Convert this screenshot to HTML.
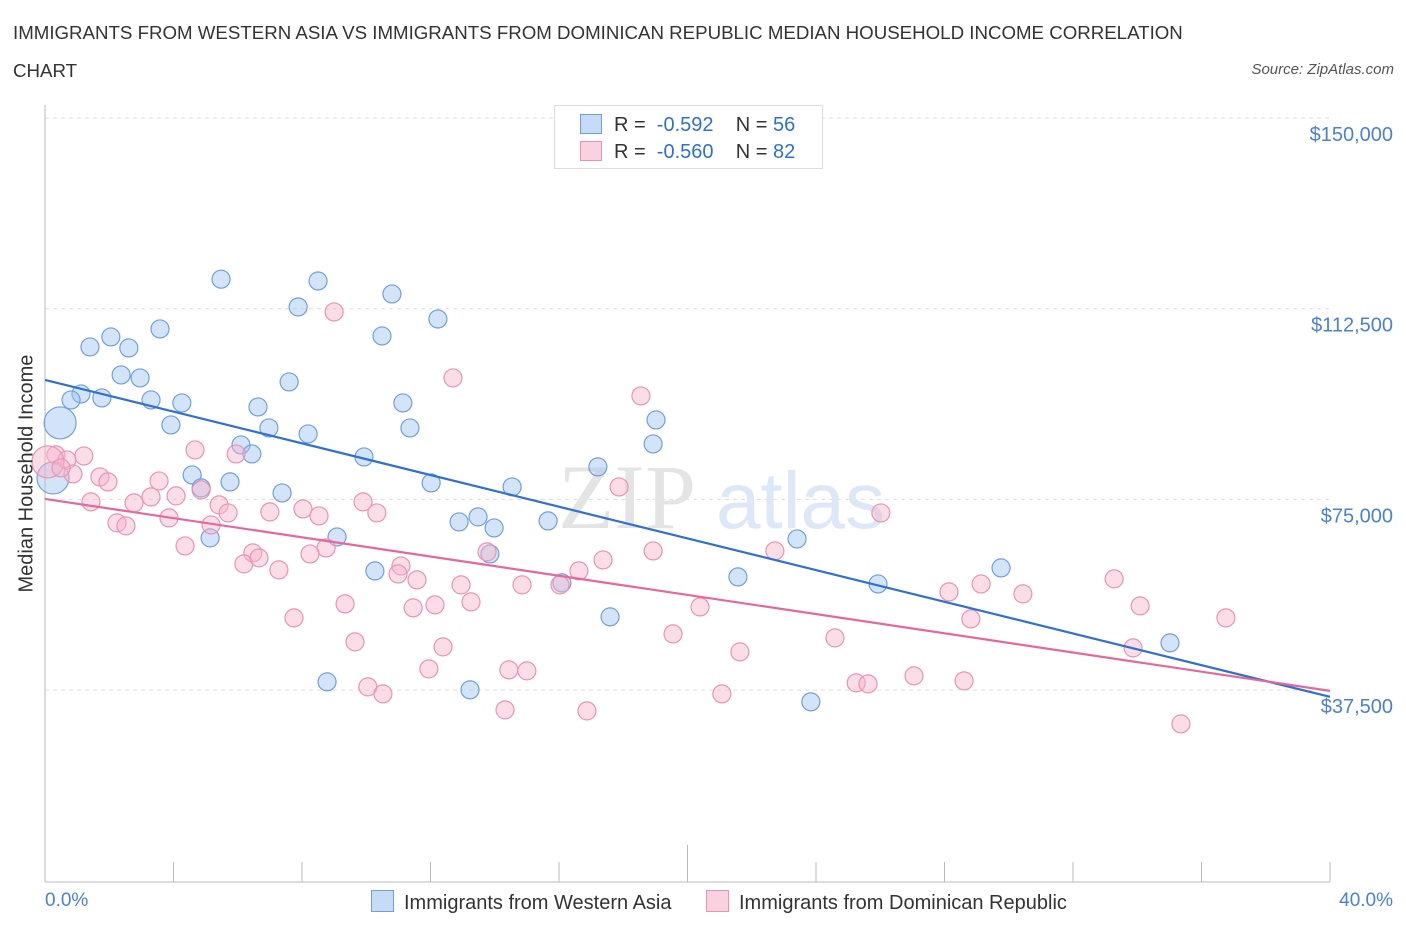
<!DOCTYPE html>
<html><head><meta charset="utf-8"><style>
body{margin:0;background:#fff;font-family:"Liberation Sans",sans-serif;}
#wrap{position:relative;width:1406px;height:930px;overflow:hidden;}
.t{position:absolute;white-space:nowrap;}
</style></head><body><div id="wrap">
<div class="t" style="left:13px;top:14px;font-size:18.7px;color:#333;line-height:38px;">IMMIGRANTS FROM WESTERN ASIA VS IMMIGRANTS FROM DOMINICAN REPUBLIC MEDIAN HOUSEHOLD INCOME CORRELATION<br>CHART</div>
<div class="t" style="right:12px;top:61px;font-size:15px;color:#555;font-style:italic;">Source: ZipAtlas.com</div>
<svg id="svg" width="1406" height="930" style="position:absolute;left:0;top:0"></svg>
</div>
<script>
const blueX=[5.48,8.50,10.80,7.88,12.23,3.58,10.49,2.05,1.40,2.61,2.37,2.96,7.60,1.12,0.81,1.77,3.30,4.26,11.14,6.63,3.92,6.97,11.36,8.19,0.47,6.10,6.44,9.93,19.02,18.93,17.21,4.58,5.76,4.86,12.02,14.54,7.38,0.25,12.89,13.48,13.98,15.66,5.14,9.09,23.41,10.27,21.57,29.76,25.93,16.09,17.59,35.02,8.78,13.23,23.84,13.85];
const blueY=[118300,117950,115400,112840,110480,108520,107140,106950,104980,104780,99470,98880,98100,95740,94560,94950,94560,93970,93970,93180,89640,89050,89050,87870,90040,85710,83940,83350,90630,85910,81390,79810,78440,77260,78240,77450,76270,79220,70570,71560,69390,70770,67430,67620,67230,60940,59760,61530,58380,58580,51900,46790,39120,37550,35190,64280];
const blueBig=[24,37];
const pinkX=[9.00,12.70,18.55,4.67,5.95,0.34,1.21,0.68,0.09,0.87,1.71,1.96,3.55,4.86,1.43,2.77,3.30,4.08,5.42,5.70,9.90,7.00,8.03,8.53,10.33,26.02,3.86,2.24,2.52,5.17,17.87,4.36,6.47,8.75,8.25,13.76,18.93,22.72,6.19,6.66,7.28,11.08,10.99,11.58,12.95,16.62,17.37,14.85,33.28,28.14,29.14,30.44,16.03,13.26,9.34,12.14,11.46,34.09,36.76,7.75,20.39,19.55,28.82,24.59,9.65,12.39,11.95,14.44,15.00,21.63,33.87,27.05,25.25,25.62,28.61,10.05,10.52,21.07,14.32,16.87,35.36,0.50];
const pinkY=[111860,98880,95350,84730,83940,83750,83550,82760,82370,80010,79420,78440,78630,76870,74510,74310,75490,75690,73920,72340,74510,72540,73130,71750,72340,72340,71360,70380,69790,69980,77450,65850,64480,65460,64280,64680,64870,64870,62320,63500,61140,61920,60350,59170,58190,60940,63100,58190,59370,56810,58380,56420,58190,54850,54450,54260,53670,54060,51700,51700,53860,48550,51500,47770,46980,46000,41670,41480,41280,45020,45800,40300,38920,38720,39310,38130,36760,36760,33610,33410,30860,81190];
const pinkBig=[8];
const blueTrend=[[0,98490],[40,36170]];
const pinkTrend=[[0,75090],[40,37350]];
const yTicks=[150000,112500,75000,37500];
const yTickLabels=["$150,000","$112,500","$75,000","$37,500"];
const xTicks=[0,4,8,12,16,20,24,28,32,36,40];

const X0=45,X1=1330,Y150=118,PX=190.7/37500;
function sx(v){return X0+(v/40)*(X1-X0);}
function sy(v){return Y150+(150000-v)*PX;}
const svg=document.getElementById('svg');
const NS='http://www.w3.org/2000/svg';
function mk(tag,attrs,parent){const e=document.createElementNS(NS,tag);for(const k in attrs)e.setAttribute(k,attrs[k]);(parent||svg).appendChild(e);return e;}

yTicks.forEach((v,i)=>{
 const g=mk('line',{x1:X0,x2:X1,y1:sy(v),y2:sy(v),stroke:'#ddd','stroke-dasharray':'4,4','stroke-width':1});
 
 
 const t=mk('text',{x:1393,y:sy(v)+23,'text-anchor':'end','font-size':20,fill:'#4a80d6','font-family':'Liberation Sans, sans-serif'});
 t.textContent=yTickLabels[i];
 
 
});
const wm=mk('text',{x:558,y:528,'font-size':92,fill:'#e4e4e4','font-family':'Liberation Serif, serif'});wm.textContent='ZIP';


const wm2=mk('text',{x:716,y:528,'font-size':80,fill:'#dce8f7','font-family':'Liberation Sans, sans-serif'});wm2.textContent='atlas';



const ax=mk('line',{x1:X0,x2:X0,y1:105,y2:882,stroke:'#bbb','stroke-width':1});


const bx=mk('line',{x1:X0,x2:X1,y1:882,y2:882,stroke:'#bbb','stroke-width':1});


xTicks.forEach((v,i)=>{
 const tk=mk('line',{x1:sx(v),x2:sx(v),y1:(i===5?845:862),y2:882,stroke:'#bbb','stroke-width':1});
 
 
});

function dots(xs,ys,big,fill,stroke,name){
 xs.forEach((x,i)=>{
  const r=big.includes(i)?16:9;
  const c=mk('circle',{cx:sx(x),cy:sy(ys[i]),r:r,fill:fill,stroke:stroke,'stroke-width':1.2});
  
  
 });
}
dots(blueX,blueY,blueBig,'rgba(160,196,240,0.45)','#6f9fe0','point-western-asia');
dots(pinkX,pinkY,pinkBig,'rgba(246,180,202,0.45)','#eb93b1','point-dominican-republic');

const bl=mk('line',{x1:sx(blueTrend[0][0]),y1:sy(blueTrend[0][1]),x2:sx(blueTrend[1][0]),y2:sy(blueTrend[1][1]),stroke:'#2f70d4','stroke-width':2.2});


const pl=mk('line',{x1:sx(pinkTrend[0][0]),y1:sy(pinkTrend[0][1]),x2:sx(pinkTrend[1][0]),y2:sy(pinkTrend[1][1]),stroke:'#e6679a','stroke-width':2.2});


</script>
<div class="t" style="left:-73px;top:481px;transform:rotate(-90deg);font-size:20px;color:#333;width:200px;text-align:center;">Median Household Income</div>
<div class="t" style="left:45px;top:890px;font-size:19px;color:#4a80d6;">0.0%</div>
<div class="t" style="right:13px;top:890px;font-size:19px;color:#4a80d6;">40.0%</div>
<div style="position:absolute;left:554px;top:105px;width:267px;height:62px;border:1px solid #ddd;background:#fff;font-size:20px;color:#333;">
 <div style="position:absolute;left:25px;top:8px;white-space:nowrap;"><span style="display:inline-block;width:20px;height:18px;background:rgba(160,196,240,0.6);border:1px solid #6f9fe0;vertical-align:-3px;margin-right:12px;"></span>R = &nbsp;<span style="color:#2f70d4">-0.592</span>&nbsp;&nbsp;&nbsp; N = <span style="color:#2f70d4">56</span></div>
 <div style="position:absolute;left:25px;top:35px;white-space:nowrap;"><span style="display:inline-block;width:20px;height:18px;background:rgba(246,180,202,0.6);border:1px solid #eb93b1;vertical-align:-3px;margin-right:12px;"></span>R = &nbsp;<span style="color:#2f70d4">-0.560</span>&nbsp;&nbsp;&nbsp; N = <span style="color:#2f70d4">82</span></div>
</div>
<div class="t" style="left:371px;top:890px;font-size:20px;color:#333;"><span style="display:inline-block;width:21px;height:20px;background:rgba(160,196,240,0.6);border:1px solid #6f9fe0;vertical-align:-3px;margin-right:10px;"></span>Immigrants from Western Asia</div>
<div class="t" style="left:706px;top:890px;font-size:20px;color:#333;"><span style="display:inline-block;width:21px;height:20px;background:rgba(246,180,202,0.6);border:1px solid #eb93b1;vertical-align:-3px;margin-right:10px;"></span>Immigrants from Dominican Republic</div>
</body></html>
